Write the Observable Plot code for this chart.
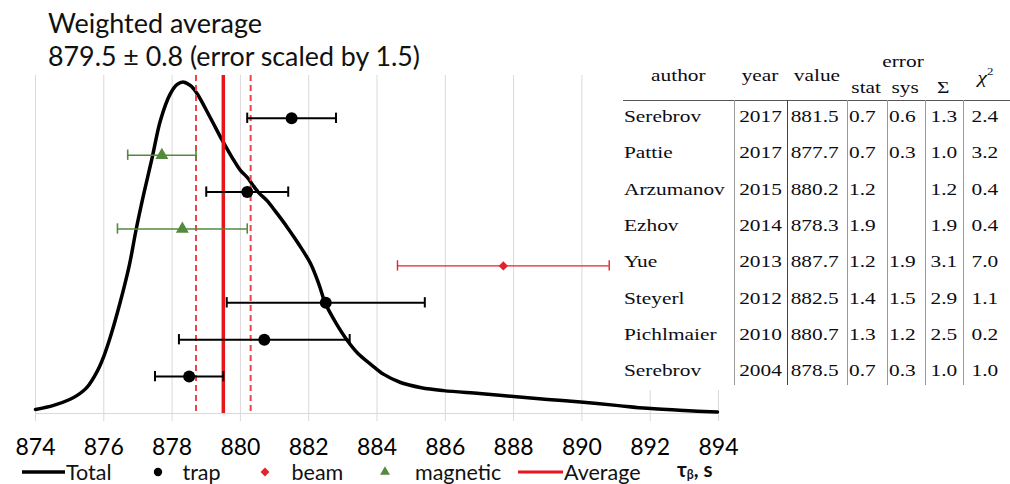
<!DOCTYPE html>
<html><head><meta charset="utf-8">
<script src="https://cdn.jsdelivr.net/npm/d3@7"></script>
<script src="https://cdn.jsdelivr.net/npm/@observablehq/plot@0.6"></script>
<style>
html,body{margin:0;padding:0;background:#fff;}
#wrap{position:relative;width:1010px;height:484px;overflow:hidden;background:#fff;}
#wrap svg{position:absolute;left:0;top:0;}
.t{position:absolute;white-space:nowrap;}
.ln{position:absolute;}
</style></head><body><div id="wrap"></div><script>
// ---------- data ----------
const authors = ["Serebrov","Pattie","Arzumanov","Ezhov","Yue","Steyerl","Pichlmaier","Serebrov"];
const years   = [2017, 2017, 2015, 2014, 2013, 2012, 2010, 2004];
const values  = [881.5, 877.7, 880.2, 878.3, 887.7, 882.5, 880.7, 878.5];
const statErr = [0.7, 0.7, 1.2, 1.9, 1.2, 1.4, 1.3, 0.7];
const sysErr  = [0.6, 0.3, null, null, 1.9, 1.5, 1.2, 0.3];
const sigma   = [1.3, 1.0, 1.2, 1.9, 3.1, 2.9, 2.5, 1.0];
const chi2    = [2.4, 3.2, 0.4, 0.4, 7.0, 1.1, 0.2, 1.0];
const methods = ["trap","magnetic","trap","magnetic","beam","trap","trap","trap"];
const average = 879.5, averageErr = 0.8;
const xTicks = [874, 876, 878, 880, 882, 884, 886, 888, 890, 892, 894];
// "Total" ideogram curve (tau, relative height)
const curveX = [874.00,874.53,875.00,875.22,875.50,875.81,876.00,876.20,876.47,876.75,876.95,877.17,877.42,877.66,877.95,878.15,878.34,878.55,878.73,879.10,879.47,879.75,880.00,880.20,880.52,880.78,881.05,881.37,881.70,882.05,882.30,882.49,882.80,883.13,883.45,883.81,884.20,884.69,885.30,885.95,887.00,888.00,889.00,889.96,891.00,891.92,893.00,893.97];
const curveY = [0.11,0.22,0.38,0.49,0.70,1.15,1.55,2.10,2.98,4.03,5.00,5.95,6.95,7.95,8.67,8.92,8.98,8.88,8.67,8.05,7.40,6.95,6.59,6.40,6.00,5.77,5.45,5.05,4.60,4.07,3.50,2.98,2.45,1.98,1.62,1.34,1.06,0.84,0.70,0.62,0.54,0.46,0.38,0.31,0.22,0.14,0.08,0.04];
const titleLines = ["Weighted average", "879.5 ± 0.8 (error scaled by 1.5)"];
const headerLabels = {author:"author", year:"year", value:"value", error:"error", stat:"stat", sys:"sys", sum:"Σ", chi:"<i>χ</i><span style='font-size:0.6em;position:relative;top:-0.8em'>2</span>"};
const legendLabels = ["Total","trap","beam","magnetic","Average"];
const axisLabel = "τ<span style='font-size:0.6em;position:relative;top:0.12em'>β</span>, s";

// ---------- build ----------
const n = authors.length;
const rows = authors.map((a, i) => ({author: a, year: years[i], value: values[i], stat: statErr[i], sys: sysErr[i], sigma: sigma[i], chi: chi2[i], method: methods[i], row: n - i, i}));
const curve = curveX.map((x, i) => ({x, y: curveY[i]}));
const color = {trap: "#000000", beam: "#e3232b", magnetic: "#548a3c"};
const symbol = {trap: "circle", beam: "diamond2", magnetic: "triangle"};
const radius = {trap: 6, beam: 4.2, magnetic: 4.8};
const sw = {trap: 2, beam: 1.4, magnetic: 1.6};
const cap = 0.14;

const errMarks = [];
for (const m of ["trap", "magnetic", "beam"]) {
  const d = rows.filter(r => r.method === m);
  errMarks.push(
    Plot.ruleY(d, {y: "row", x1: r => r.value - r.sigma, x2: r => r.value + r.sigma, stroke: color[m], strokeWidth: sw[m]}),
    Plot.ruleX(d, {x: r => r.value - r.sigma, y1: r => r.row - cap, y2: r => r.row + cap, stroke: color[m], strokeWidth: sw[m]}),
    Plot.ruleX(d, {x: r => r.value + r.sigma, y1: r => r.row - cap, y2: r => r.row + cap, stroke: color[m], strokeWidth: sw[m]}),
    Plot.dot(d, {x: "value", y: "row", symbol: symbol[m], r: radius[m], fill: color[m], stroke: "none"})
  );
}

const chart = Plot.plot({
  width: 1010, height: 460,
  marginTop: 75, marginBottom: 47, marginLeft: 35, marginRight: 292,
  x: {domain: [874, 894]},
  y: {domain: [0, 9.16], axis: null},
  style: {fontFamily: "Lato, sans-serif", background: "transparent", color: "#000", overflow: "visible"},
  marks: [
    Plot.gridX(xTicks, {stroke: "#d9d9d9", strokeOpacity: 1}),
    Plot.ruleY([0], {stroke: "#d9d9d9", strokeWidth: 1}),
    Plot.axisX({ticks: xTicks, tickSize: 8, tickPadding: 17, stroke: "#d9d9d9", fill: "#000", fontSize: 23, label: null}),
    Plot.line(curve, {x: "x", y: "y", curve: "catmull-rom", stroke: "#000", strokeWidth: 3.5}),
    Plot.ruleX([average - averageErr, average + averageErr], {stroke: "#f0404a", strokeWidth: 2, strokeDasharray: "6,4"}),
    Plot.ruleX([average], {stroke: "#e8151d", strokeWidth: 3.5}),
    ...errMarks
  ]
});
const wrap = document.getElementById("wrap");
wrap.appendChild(chart);

// ---------- text helpers ----------
function put(html, x, baseline, o = {}) {
  const size = o.size || 20, fam = o.family || "Lato, sans-serif";
  const ascent = o.ascent != null ? o.ascent : 0.987;
  const content = o.content != null ? o.content : 1.2;
  const lh = o.lh || 1;
  const d = document.createElement("div");
  d.className = "t";
  d.style.fontFamily = fam; d.style.fontSize = size + "px"; d.style.lineHeight = (lh * size) + "px";
  d.style.top = (baseline - ((lh - content) / 2 + ascent) * size) + "px";
  d.style.color = o.color || "#000";
  if (o.weight) d.style.fontWeight = o.weight;
  const anchor = o.anchor || "start";
  if (anchor === "start") d.style.left = x + "px";
  else { d.style.left = (x - 300) + "px"; d.style.width = "600px"; d.style.textAlign = "center"; }
  const s = document.createElement("span");
  s.style.display = "inline-block";
  s.style.transform = `scaleX(${o.sx || 1})`;
  s.style.transformOrigin = anchor === "start" ? "0 50%" : "50% 50%";
  s.innerHTML = html;
  d.appendChild(s);
  wrap.appendChild(d);
  return d;
}
function box(l, t, w, h, bg) {
  const d = document.createElement("div");
  d.className = "ln";
  Object.assign(d.style, {left: l + "px", top: t + "px", width: w + "px", height: h + "px", background: bg});
  wrap.appendChild(d);
}

// ---------- title ----------
put(titleLines[0], 48, 33, {size: 27, color: "#111"});
put(titleLines[1], 48, 66.5, {size: 26.8, color: "#111"});

// ---------- table ----------
box(612, 48, 398, 342, "#fff");
const serif = {family: "'Liberation Serif', 'Times New Roman', serif", size: 17.5, sx: 1.22, ascent: 0.891, content: 1.107, color: "#0c0c14"};
const colX = [622, 734, 787, 847, 887, 925, 963, 1010];
const rowTop = 117, rowH = 36.3;
box(623, 100, 387, 1.2, "#555");
for (let k = 1; k < 7; k++) box(colX[k], 100, 1, 285, k === 2 ? "#444" : "#999");
put(headerLabels.author, 678, 81.5, {...serif, anchor: "middle"});
put(headerLabels.year, 760, 81.5, {...serif, anchor: "middle"});
put(headerLabels.value, 817, 81.5, {...serif, anchor: "middle"});
put(headerLabels.error, 903, 68, {...serif, anchor: "middle"});
put(headerLabels.stat, 866, 93.5, {...serif, anchor: "middle"});
put(headerLabels.sys, 905, 93.5, {...serif, anchor: "middle"});
put(headerLabels.sum, 943, 93.5, {...serif, anchor: "middle"});
put(headerLabels.chi, 985, 84, {...serif, anchor: "middle"});
const fmt = v => v == null ? "" : v.toFixed(1);
rows.forEach(r => {
  const b = rowTop + rowH * r.i + 5.8;
  put(r.author, 624, b, serif);
  put(String(r.year), 760, b, {...serif, anchor: "middle"});
  put(r.value.toFixed(1), 815, b, {...serif, anchor: "middle"});
  put(fmt(r.stat), 849, b, serif);
  put(fmt(r.sys), 889, b, serif);
  put(fmt(r.sigma), 943.5, b, {...serif, anchor: "middle"});
  put(fmt(r.chi), 985, b, {...serif, anchor: "middle"});
});

// ---------- legend ----------
const lg = d3.create("svg").attr("width", 1010).attr("height", 484).style("pointer-events", "none");
const ly = 472;
lg.append("line").attr("x1", 22).attr("x2", 65).attr("y1", ly).attr("y2", ly).attr("stroke", "#000").attr("stroke-width", 3.5);
lg.append("circle").attr("cx", 158).attr("cy", ly).attr("r", 4.2).attr("fill", "#000");
lg.append("path").attr("d", d3.symbol(d3.symbolDiamond2, 50)()).attr("transform", `translate(265,${ly})`).attr("fill", color.beam);
lg.append("path").attr("d", d3.symbol(d3.symbolTriangle, 42)()).attr("transform", `translate(385,${ly})`).attr("fill", color.magnetic);
lg.append("line").attr("x1", 518).attr("x2", 563).attr("y1", ly).attr("y2", ly).attr("stroke", "#e8151d").attr("stroke-width", 3);
wrap.appendChild(lg.node());
const lopt = {size: 21.5, color: "#111", lh: 0.75};
put(legendLabels[0], 66, 480.5, lopt);
put(legendLabels[1], 182.5, 480.5, lopt);
put(legendLabels[2], 291.5, 480.5, lopt);
put(legendLabels[3], 415, 480.5, lopt);
put(legendLabels[4], 564, 480.5, lopt);
put(axisLabel, 677, 478, {size: 20.5, weight: "bold", color: "#111", lh: 0.75});
</script></body></html>
